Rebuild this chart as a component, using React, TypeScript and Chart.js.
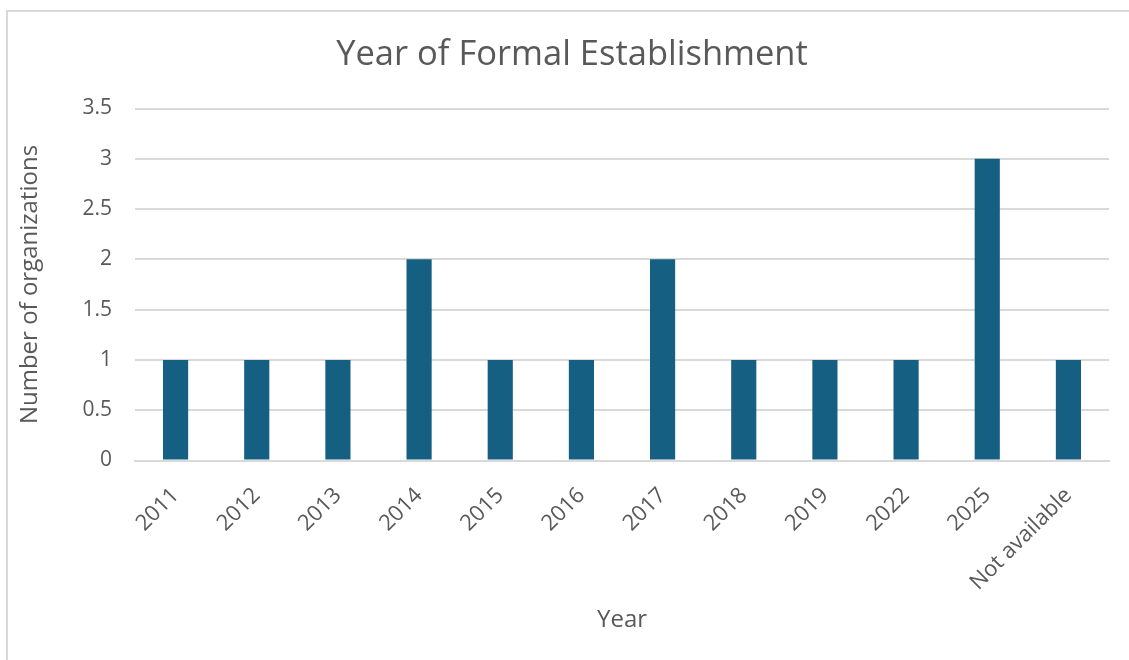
import React, { useEffect, useRef } from "react";
import { Chart, registerables } from "chart.js";

Chart.register(...registerables);

const categories = ["2011", "2012", "2013", "2014", "2015", "2016", "2017", "2018", "2019", "2022", "2025", "Not available"];
const organizations = [1, 1, 1, 2, 1, 1, 2, 1, 1, 1, 3, 1];
const chartTitle = "Year of Formal Establishment";
const xTitle = "Year";
const yTitle = "Number of organizations";

const FONT = "'Open Sans', sans-serif";
const TEXT = "#595959";

export default function App() {
  const ref = useRef<HTMLCanvasElement | null>(null);
  useEffect(() => {
    document.body.style.margin = "0";
    document.body.style.overflow = "hidden";
    const chart = new Chart(ref.current!, {
      type: "bar",
      data: {
        labels: categories,
        datasets: [
          {
            data: organizations,
            backgroundColor: "#156082",
            categoryPercentage: 1,
            barPercentage: 0.31,
          },
        ],
      },
      options: {
        animation: false,
        responsive: false,
        layout: { padding: { left: 35, right: 20, top: 0, bottom: 25 } },
        plugins: {
          legend: { display: false },
          tooltip: { enabled: false },
          title: {
            display: true,
            text: chartTitle,
            color: TEXT,
            font: { family: FONT, size: 34.5, weight: "normal" },
            padding: { top: 34, bottom: 33.1 },
          },
        },
        scales: {
          x: {
            grid: { display: false, drawTicks: false },
            border: { color: "#d9d9d9", width: 2 },
            ticks: {
              color: TEXT,
              font: { family: FONT, size: 22 },
              maxRotation: 45,
              minRotation: 45,
              padding: 22,
              autoSkip: false,
            },
            title: {
              display: true,
              text: xTitle,
              color: TEXT,
              font: { family: FONT, size: 24 },
              padding: 0,
            },
            afterFit: (s: any) => {
              s.height = 660 - 25 - 460.5;
            },
          },
          y: {
            min: 0,
            max: 3.5,
            ticks: {
              stepSize: 0.5,
              color: TEXT,
              font: { family: FONT, size: 21 },
              padding: 23,
              callback: (v: any) => String(Number(v)),
            },
            grid: { color: "#d9d9d9", lineWidth: 2, drawTicks: false },
            border: { display: false },
            title: {
              display: true,
              text: yTitle,
              color: TEXT,
              font: { family: FONT, size: 24 },
              padding: { top: -19 },
            },
            afterFit: (s: any) => {
              s.width = 135 - 35;
            },
          },
        },
      },
    });
    return () => chart.destroy();
  }, []);
  return (
    <div style={{ position: "relative", width: 1129, height: 660 }}>
      <div
        style={{
          position: "absolute",
          left: 6,
          top: 10,
          width: 1140,
          height: 700,
          border: "2px solid #d9d9d9",
          boxSizing: "border-box",
        }}
      />
      <canvas ref={ref} width={1129} height={660} style={{ position: "absolute", left: 0, top: 0 }} />
    </div>
  );
}
